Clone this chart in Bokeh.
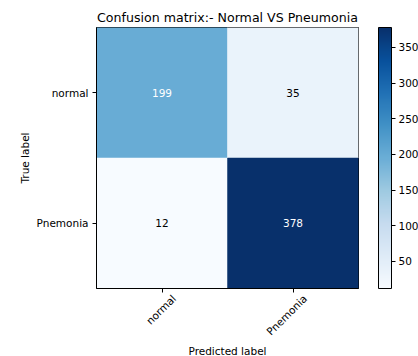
from bokeh.plotting import figure
from bokeh.models import (LinearColorMapper, ColorBar, FixedTicker, ColumnDataSource, FactorRange,
                          Range1d, LinearAxis)
from bokeh.palettes import Blues256
from bokeh.transform import transform
from bokeh.core.properties import value
from bokeh.embed import file_html
from bokeh.resources import INLINE
import math

classes = ["normal", "Pnemonia"]
cm_rows = [[199, 35], [12, 378]]
cbar_ticks = [50, 100, 150, 200, 250, 300, 350]
title_text = "Confusion matrix:- Normal VS Pneumonia"

n = len(classes)
xpos = [i + 0.5 for i in range(n)]
xs, ys, vs = [], [], []
for i, row in enumerate(cm_rows):
    for j, v in enumerate(row):
        ys.append(classes[i])
        xs.append(xpos[j])
        vs.append(v)
vmax = max(vs)
vmin = min(vs)
tcol = ["white" if v > vmax / 2 else "black" for v in vs]
src = ColumnDataSource(dict(x=xs, y=ys, v=vs, t=[str(v) for v in vs], c=tcol))

mapper = LinearColorMapper(palette=list(reversed(Blues256)), low=vmin, high=vmax)

FONT = "DejaVu Sans"
FS = "10.5px"
FRAME_W = 262
p = figure(x_range=Range1d(0, n), y_range=FactorRange(*classes[::-1]),
           frame_width=FRAME_W, frame_height=261, output_backend="svg", toolbar_location=None,
           min_border_left=96, min_border_top=27, min_border_bottom=5, min_border_right=0,
           title=title_text)
p.title.align = "center"
p.title.text_font = FONT
p.title.text_font_size = "12.6px"
p.title.text_font_style = "normal"
p.title.text_color = "black"
p.title.standoff = 5

p.rect(x="x", y="y", width=1, height=1, source=src,
       fill_color=transform("v", mapper), line_color=transform("v", mapper), line_width=0.5)
p.text(x="x", y="y", text="t", source=src, text_color="c", text_align="center",
       text_baseline="middle", text_font=value(FONT), text_font_size=FS)

p.xgrid.grid_line_color = None
p.ygrid.grid_line_color = None
p.outline_line_color = "black"
p.outline_line_width = 1

# label-only axis, shifted so rotated labels sit centred under their ticks
shift = 12.0 * n / FRAME_W
p.extra_x_ranges = {"lab": Range1d(-shift, n - shift)}
lab_axis = LinearAxis(x_range_name="lab", ticker=FixedTicker(ticks=xpos),
                      major_label_overrides={xpos[i]: classes[i] for i in range(n)})
p.add_layout(lab_axis, "below")

for ax in (p.xaxis[0], p.yaxis[0], lab_axis):
    ax.axis_line_color = "black"
    ax.major_tick_line_color = "black"
    ax.major_tick_in = 0
    ax.major_tick_out = 4
    ax.minor_tick_line_color = None
    ax.major_label_text_font = FONT
    ax.major_label_text_font_size = FS
    ax.major_label_text_color = "black"
    ax.axis_label_text_font = FONT
    ax.axis_label_text_font_size = FS
    ax.axis_label_text_font_style = "normal"
    ax.axis_label_text_color = "black"
    ax.major_label_standoff = 4

main_x = p.xaxis[0]
main_x.ticker = FixedTicker(ticks=xpos)
main_x.major_label_text_color = None
main_x.major_label_standoff = 0

lab_axis.axis_line_color = None
lab_axis.major_tick_line_color = None
lab_axis.major_tick_out = 0
lab_axis.major_label_standoff = 4
lab_axis.major_label_orientation = math.pi / 4
lab_axis.axis_label = "Predicted label"
lab_axis.axis_label_standoff = 0

p.yaxis.axis_label = "True label"
p.yaxis.axis_label_standoff = 3

cb = ColorBar(color_mapper=mapper, ticker=FixedTicker(ticks=cbar_ticks), width=13, height=261,
              padding=0, margin=0, location=(20, 0), major_tick_in=0, major_tick_out=4,
              major_tick_line_color="black", minor_tick_line_color=None,
              bar_line_color="black", border_line_color=None, background_fill_color=None,
              major_label_text_font=FONT, major_label_text_font_size=FS,
              major_label_text_color="black", label_standoff=3)
p.add_layout(cb, "right")

open("out.html", "w").write(file_html(p, INLINE))
